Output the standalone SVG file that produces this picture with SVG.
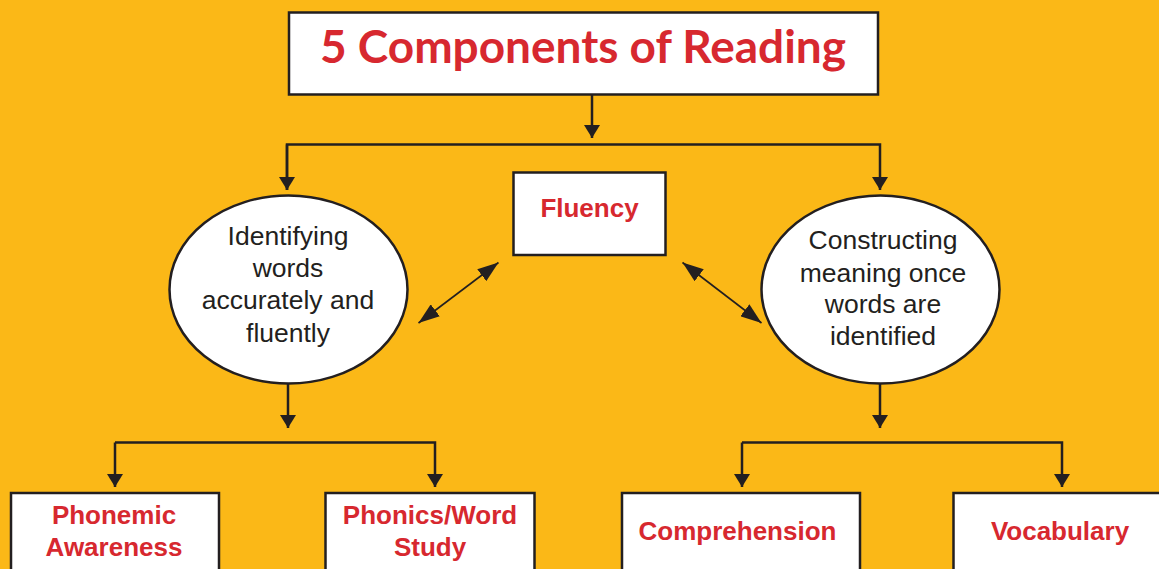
<svg xmlns="http://www.w3.org/2000/svg" width="1159" height="569" viewBox="0 0 1159 569">
  <style>
    .box { fill: #ffffff; stroke: #231f20; stroke-width: 2.5; }
    .oval { fill: #ffffff; stroke: #231f20; stroke-width: 2.5; }
    .link { fill: none; stroke: #231f20; stroke-width: 2.5; }
    .dlink { fill: none; stroke: #231f20; stroke-width: 1.6; }
    .title { font-family: "Lato", "Open Sans", sans-serif; font-weight: 700; font-size: 45px; fill: #d7282f; text-anchor: middle; }
    .label { font-family: "Liberation Sans", Arial, sans-serif; font-weight: 700; font-size: 26px; fill: #d7282f; text-anchor: middle; }
    .body { font-family: "Liberation Sans", Arial, sans-serif; font-size: 26.5px; fill: #231f20; text-anchor: middle; }
  </style>
  <defs>
    <marker id="head" viewBox="0 0 13 16" refX="13" refY="8" markerWidth="13" markerHeight="16" markerUnits="userSpaceOnUse" orient="auto">
      <path d="M0,0 L13,8 L0,16 z" fill="#231f20"/>
    </marker>
    <marker id="head2" viewBox="0 0 21 15" refX="21" refY="7.5" markerWidth="21" markerHeight="15" markerUnits="userSpaceOnUse" orient="auto-start-reverse">
      <path d="M0,0 L21,7.5 L0,15 z" fill="#231f20"/>
    </marker>
  </defs>

  <rect width="1159" height="569" fill="#fbb817"/>

  <!-- connectors -->
  <g id="connectors">
    <line class="link" x1="592" y1="95" x2="592" y2="138" marker-end="url(#head)"/>
    <polyline class="link" points="287,190 287,144.5 880,144.5 880,190" marker-end="url(#head)"/>
    <line class="link" x1="287" y1="144.5" x2="287" y2="190" marker-end="url(#head)"/>
    <line class="link" x1="288" y1="383" x2="288" y2="428" marker-end="url(#head)"/>
    <line class="link" x1="880" y1="383" x2="880" y2="428" marker-end="url(#head)"/>
    <polyline class="link" points="115,442.5 435,442.5 435,487" marker-end="url(#head)"/>
    <line class="link" x1="115" y1="442.5" x2="115" y2="487" marker-end="url(#head)"/>
    <polyline class="link" points="742,442.5 1062,442.5 1062,487" marker-end="url(#head)"/>
    <line class="link" x1="742" y1="442.5" x2="742" y2="487" marker-end="url(#head)"/>
    <line class="dlink" x1="418.5" y1="323" x2="498.5" y2="262.5" marker-start="url(#head2)" marker-end="url(#head2)"/>
    <line class="dlink" x1="682.5" y1="262.5" x2="761.5" y2="323" marker-start="url(#head2)" marker-end="url(#head2)"/>
  </g>

  <g id="title">
    <rect class="box" x="289" y="12.5" width="589" height="82"/>
    <text class="title" x="583" y="63" textLength="526" lengthAdjust="spacingAndGlyphs">5 Components of Reading</text>
  </g>

  <g id="fluency">
    <rect class="box" x="513.5" y="172.5" width="152" height="82.5"/>
    <text class="label" x="589.5" y="217">Fluency</text>
  </g>

  <g id="word-identification">
    <ellipse class="oval" cx="288.5" cy="289.5" rx="119" ry="94"/>
    <text class="body" x="288" y="245">Identifying</text>
    <text class="body" x="288" y="277">words</text>
    <text class="body" x="288" y="309">accurately and</text>
    <text class="body" x="288" y="341.5">fluently</text>
  </g>

  <g id="constructing-meaning">
    <ellipse class="oval" cx="880.5" cy="289.5" rx="119" ry="94"/>
    <text class="body" x="883" y="249">Constructing</text>
    <text class="body" x="883" y="281.5">meaning once</text>
    <text class="body" x="883" y="313">words are</text>
    <text class="body" x="883" y="345">identified</text>
  </g>

  <g id="phonemic-awareness">
    <rect class="box" x="11" y="493" width="208" height="90"/>
    <text class="label" x="114" y="523.5">Phonemic</text>
    <text class="label" x="114" y="555.5">Awareness</text>
  </g>

  <g id="phonics">
    <rect class="box" x="325.5" y="493" width="209" height="90"/>
    <text class="label" x="430" y="523.5">Phonics/Word</text>
    <text class="label" x="430" y="555.5">Study</text>
  </g>

  <g id="comprehension">
    <rect class="box" x="622" y="493" width="238" height="90"/>
    <text class="label" x="737.5" y="539.5">Comprehension</text>
  </g>

  <g id="vocabulary">
    <rect class="box" x="953.5" y="493" width="230" height="90"/>
    <text class="label" x="1060" y="539.5">Vocabulary</text>
  </g>
</svg>
